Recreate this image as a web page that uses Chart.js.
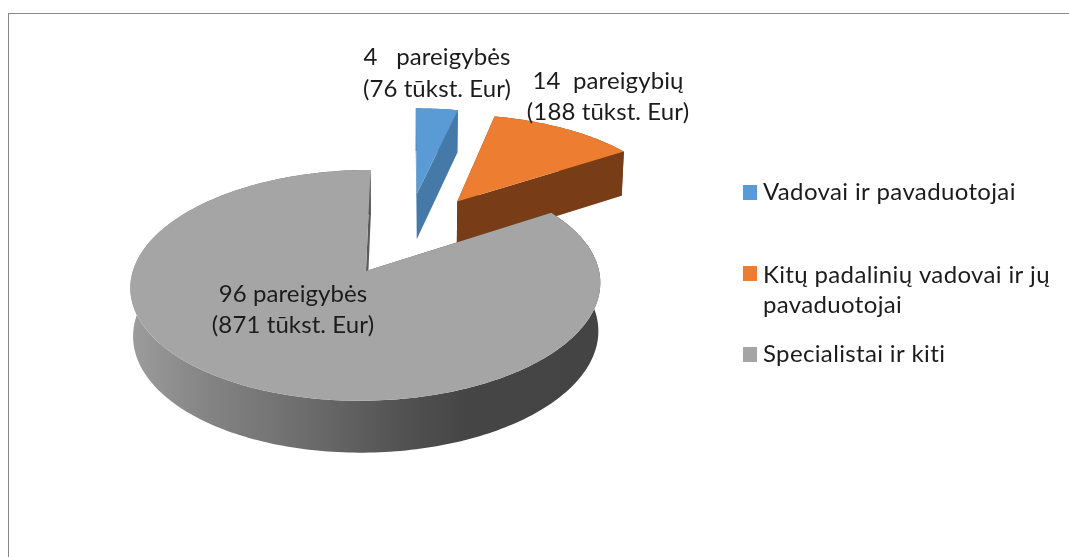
<!DOCTYPE html>
<html>
<head>
<meta charset="utf-8">
<title>Pareigybės</title>
<script src="https://cdn.jsdelivr.net/npm/chart.js@4"></script>
<style>
  html, body { margin: 0; padding: 0; background: #fff; }
  #wrap { position: relative; width: 1069px; height: 557px; overflow: hidden; }
  #frame { position: absolute; left: 8px; top: 13px; right: -2px; bottom: -2px; border-left: 1px solid #888; border-top: 1px solid #888; }
  canvas { position: absolute; left: 0; top: 0; }
</style>
</head>
<body>
<div id="wrap">
  <div id="frame"></div>
  <canvas id="chart" width="1069" height="557"></canvas>
</div>
<script>
const categories = ["Vadovai ir pavaduotojai", "Kitų padalinių vadovai ir jų pavaduotojai", "Specialistai ir kiti"];
const positions = [4, 14, 96];
const topColors = ["#5B9BD5", "#ED7D31", "#A5A5A5"];
const sideColors = ["#4579A8", "#783D17", "#444444"];
const sliceLabels = [
  ["4   pareigybės", "(76 tūkst. Eur)"],
  ["14  pareigybių", "(188 tūkst. Eur)"],
  ["96 pareigybės", "(871 tūkst. Eur)"],
];
const legendLines = [["Vadovai ir pavaduotojai"], ["Kitų padalinių vadovai ir jų", "pavaduotojai"], ["Specialistai ir kiti"]];

// how far each slice is pulled out, in radii
const explode = [0.42, 0.41, 0.37];

// 3d look: perspective plane
const view = { x0: 407, y0: 235.4, a: 224, b: 104.9, p: 0.12, depth: 46.8, shrink: 0.99 };

// x is center of the label, y the baseline of the first line
const labelPos = [{ x: 437, y: 65, lh: 32 }, { x: 608, y: 89, lh: 31 }, { x: 293, y: 302, lh: 31 }];
const legendPos = [{ y: 185, text: 200 }, { y: 266, text: 283 }, { y: 347, text: 362 }];

function project(wx, wy) {
  const w = 1 + view.p * wy;
  const h = view.depth * Math.pow(1 / w, 0.6);
  const X = view.x0 + view.a * wx / w;
  const Y = view.y0 - view.b * wy / w;
  return { X, Y, bx: view.x0 + (X - view.x0) * view.shrink, by: Y + h };
}

const pie3d = {
  id: "pie3d",
  beforeDatasetDraw(chart, args) {
    const ctx = chart.ctx;
    args.meta.data.forEach((arc, i) => {
      const start = arc.startAngle + Math.PI / 2;
      const end = arc.endAngle + Math.PI / 2;
      const mid = (start + end) / 2;
      const cx = explode[i] * Math.sin(mid);
      const cy = explode[i] * Math.cos(mid);
      const apex = project(cx, cy);
      const pts = [];
      const n = Math.ceil((end - start) / 0.02);
      for (let k = 0; k <= n; k++) {
        const t = start + (end - start) * k / n;
        pts.push(project(cx + Math.sin(t), cy + Math.cos(t)));
      }

      let side = sideColors[i];
      if (i === 2) {
        side = ctx.createLinearGradient(133, 0, 598, 0);
        side.addColorStop(0, "#9C9C9C");
        side.addColorStop(0.15, "#858585");
        side.addColorStop(0.36, "#6E6E6E");
        side.addColorStop(0.58, "#525252");
        side.addColorStop(0.72, "#454545");
        side.addColorStop(1, "#444444");
      }
      ctx.fillStyle = side;

      // outer wall
      ctx.beginPath();
      pts.forEach((p, k) => k ? ctx.lineTo(p.X, p.Y) : ctx.moveTo(p.X, p.Y));
      for (let k = pts.length - 1; k >= 0; k--) ctx.lineTo(pts[k].bx, pts[k].by);
      ctx.closePath();
      ctx.fill();

      // the two cut faces
      [pts[0], pts[pts.length - 1]].forEach(p => {
        ctx.beginPath();
        ctx.moveTo(apex.X, apex.Y);
        ctx.lineTo(p.X, p.Y);
        ctx.lineTo(p.bx, p.by);
        ctx.lineTo(apex.bx, apex.by);
        ctx.closePath();
        ctx.fill();
      });

      // top
      ctx.fillStyle = topColors[i];
      ctx.beginPath();
      ctx.moveTo(apex.X, apex.Y);
      pts.forEach(p => ctx.lineTo(p.X, p.Y));
      ctx.closePath();
      ctx.fill();
    });
    return false;
  },
  afterDraw(chart) {
    const ctx = chart.ctx;
    ctx.save();
    ctx.fillStyle = "#1c1c1c";
    ctx.textBaseline = "alphabetic";

    ctx.font = "24px Lato";
    ctx.letterSpacing = "0.1px";
    ctx.textAlign = "center";
    sliceLabels.forEach((lines, i) => {
      lines.forEach((line, k) => ctx.fillText(line, labelPos[i].x, labelPos[i].y + k * labelPos[i].lh));
    });

    ctx.textAlign = "left";
    ctx.letterSpacing = "0.35px";
    legendLines.forEach((lines, i) => {
      ctx.fillStyle = topColors[i];
      ctx.fillRect(743, legendPos[i].y, 14, 15);
      ctx.fillStyle = "#1c1c1c";
      lines.forEach((line, k) => ctx.fillText(line, 763, legendPos[i].text + k * 30));
    });
    ctx.restore();
  },
};

new Chart(document.getElementById("chart"), {
  type: "pie",
  data: {
    labels: categories,
    datasets: [{ data: positions, backgroundColor: topColors, borderWidth: 0 }],
  },
  options: {
    responsive: false,
    animation: false,
    plugins: { legend: { display: false }, tooltip: { enabled: false } },
  },
  plugins: [pie3d],
});
</script>
</body>
</html>
